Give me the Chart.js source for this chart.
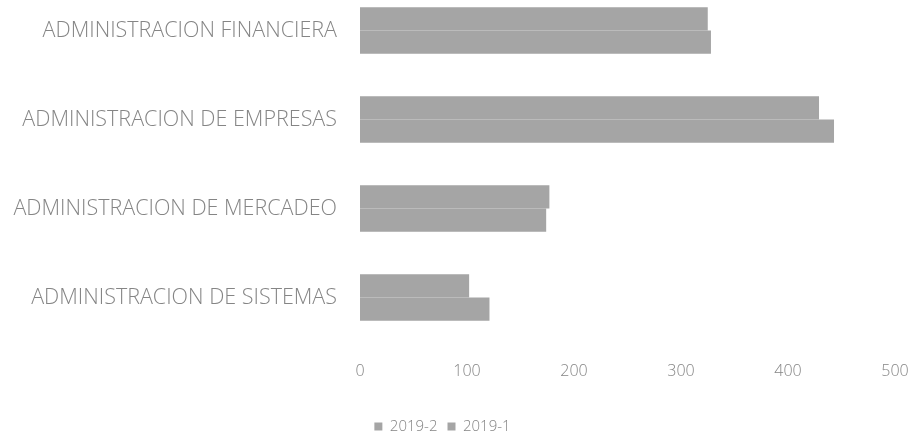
<!DOCTYPE html>
<html>
<head>
<meta charset="utf-8">
<script src="https://cdn.jsdelivr.net/npm/chart.js@4.4.0/dist/chart.umd.min.js"></script>
<style>
  body { margin: 0; background: #fff; }
  #wrap { position: relative; width: 922px; height: 437px; overflow: hidden; }
  #chart { position: absolute; left: -10px; top: -14px; }
</style>
</head>
<body>
<div id="wrap"><canvas id="chart" width="932" height="465"></canvas></div>
<script>
const categories = ["ADMINISTRACION FINANCIERA", "ADMINISTRACION DE EMPRESAS", "ADMINISTRACION DE MERCADEO", "ADMINISTRACION DE SISTEMAS"];
const serie2019_1 = [325, 429, 177, 102];
const serie2019_2 = [328, 443, 174, 121];
const xTicks = [0, 100, 200, 300, 400, 500];

const textColor = '#858585';
const barColor = '#a5a5a5';
const fontFamily = 'Open Sans';

showChart();

function showChart() {
    const ctx = document.getElementById('chart').getContext('2d');
    new Chart(ctx, {
        type: 'bar',
        data: {
            labels: categories,
            datasets: [
                {
                    label: '2019-1',
                    data: serie2019_1,
                    backgroundColor: barColor,
                },
                {
                    label: '2019-2',
                    data: serie2019_2,
                    backgroundColor: barColor,
                },
            ]
        },
        options: {
            indexAxis: 'y',
            responsive: false,
            animation: false,
            layout: {
                padding: { left: 0, right: 27, top: 0, bottom: 7 }
            },
            datasets: {
                bar: {
                    categoryPercentage: 0.52,
                    barPercentage: 1.0
                }
            },
            scales: {
                x: {
                    min: 0,
                    max: 500,
                    border: { display: false },
                    grid: { display: false, drawTicks: false },
                    afterBuildTicks: (scale) => {
                        scale.ticks = xTicks.map(v => ({ value: v }));
                    },
                    afterFit: (scale) => {
                        scale.height = 67;
                        scale.paddingLeft = 0;
                        scale.paddingRight = 0;
                    },
                    ticks: {
                        color: textColor,
                        padding: 20,
                        font: { family: fontFamily, size: 16, weight: '300' }
                    }
                },
                y: {
                    border: { display: false },
                    grid: { display: false, drawTicks: false },
                    afterFit: (scale) => {
                        scale.width = 370;
                        scale.paddingTop = 0;
                        scale.paddingBottom = 0;
                    },
                    ticks: {
                        color: textColor,
                        padding: 23,
                        font: { family: fontFamily, size: 21.5, weight: '300' }
                    }
                }
            },
            plugins: {
                legend: {
                    position: 'bottom',
                    reverse: true,
                    labels: {
                        color: textColor,
                        boxWidth: 8,
                        boxHeight: 8,
                        padding: 10,
                        font: { family: fontFamily, size: 15, weight: '300' }
                    }
                },
                title: { display: false },
                tooltip: { enabled: false }
            }
        },
    });
}
</script>
</body>
</html>
